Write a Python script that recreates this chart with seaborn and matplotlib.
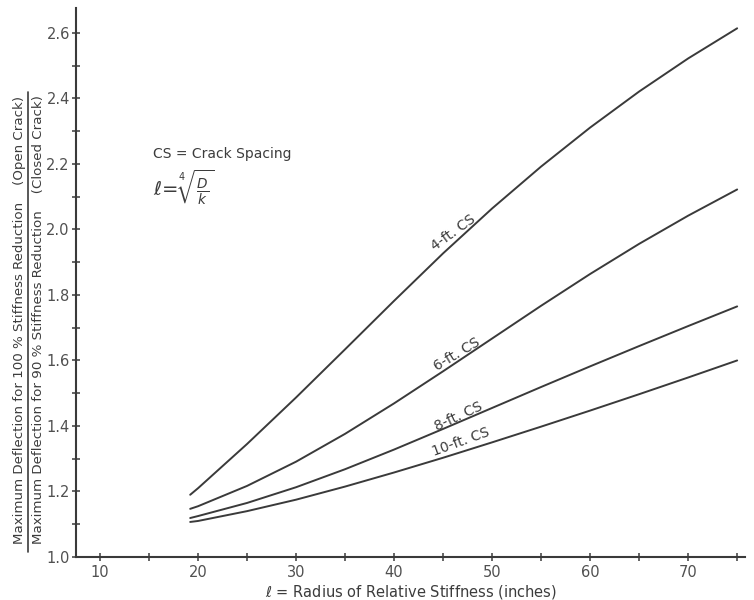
import numpy as np
import pandas as pd
import matplotlib
matplotlib.use("Agg")
import matplotlib.pyplot as plt
from matplotlib.lines import Line2D
import seaborn as sns

# ---- data ----
radius = [19.2, 20, 25, 30, 35, 40, 45, 50, 55, 60, 65, 70, 75]
cs_4ft = [1.19, 1.21, 1.345, 1.487, 1.634, 1.782, 1.927, 2.064, 2.192, 2.311, 2.421, 2.522, 2.614]
cs_6ft = [1.147, 1.155, 1.217, 1.291, 1.376, 1.469, 1.567, 1.667, 1.767, 1.864, 1.956, 2.042, 2.122]
cs_8ft = [1.119, 1.125, 1.165, 1.213, 1.268, 1.328, 1.391, 1.455, 1.519, 1.582, 1.644, 1.705, 1.765]
cs_10ft = [1.107, 1.11, 1.14, 1.175, 1.215, 1.258, 1.303, 1.35, 1.398, 1.447, 1.497, 1.548, 1.60]
series_names = ["4-ft. CS", "6-ft. CS", "8-ft. CS", "10-ft. CS"]
label_x = [46.0, 46.4, 46.6, 46.8]
label_y = [1.99, 1.62, 1.428, 1.35]
label_rot = [36, 31, 25, 20]
x_ticks = [10, 20, 30, 40, 50, 60, 70]
y_ticks = [1.0, 1.2, 1.4, 1.6, 1.8, 2.0, 2.2, 2.4, 2.6]

df = pd.DataFrame({
    "radius": radius * 4,
    "ratio": cs_4ft + cs_6ft + cs_8ft + cs_10ft,
    "series": sum([[n] * len(radius) for n in series_names], []),
})

sns.set_theme(style="ticks")
plt.rcParams["font.family"] = ["DejaVu Sans"]

INK = "#3a3a3a"
TXT = "#3c3c3c"
fig = plt.figure(figsize=(7.54, 6.0), dpi=100)
ax = fig.add_axes([76 / 754, 43 / 600, 669 / 754, 549 / 600])

sns.lineplot(data=df, x="radius", y="ratio", hue="series",
             palette=[INK] * 4, linewidth=1.4, legend=False, ax=ax,
             estimator=None, sort=True)

ax.set_xlim(7.55, 75.8)
ax.set_ylim(1.0, 2.676)

ax.set_xticks(x_ticks)
ax.set_xticklabels([str(t) for t in x_ticks])
ax.set_xticks(np.arange(15, 76, 10), minor=True)
ax.set_yticks(y_ticks)
ax.set_yticklabels([f"{t:.1f}" for t in y_ticks])
ax.set_yticks(np.arange(1.1, 2.65, 0.2), minor=True)

ax.tick_params(axis="both", which="both", direction="inout", length=6,
               width=1.1, color=INK, labelcolor="#505050", labelsize=10.5)
ax.tick_params(axis="x", which="major", pad=3)
ax.tick_params(axis="y", which="major", pad=1.5)

for s in ["top", "right"]:
    ax.spines[s].set_visible(False)
for s in ["left", "bottom"]:
    ax.spines[s].set_color(INK)
    ax.spines[s].set_linewidth(1.5)

ax.set_xlabel(r"$\ell$ = Radius of Relative Stiffness (inches)",
              fontsize=10.5, color=TXT, labelpad=2)
ax.set_ylabel("")

# curve labels
for n, lx, ly, r in zip(series_names, label_x, label_y, label_rot):
    ax.text(lx, ly, n, rotation=r, ha="center", va="center",
            fontsize=10, color=TXT, rotation_mode="anchor")

# annotations
ax.text(15.4, 2.229, "CS = Crack Spacing", fontsize=10, color=TXT,
        ha="left", va="center")
ax.text(15.4, 2.125, r"$\ell\!=\!\sqrt[4]{\frac{D}{k}}$", fontsize=14,
        color=TXT, ha="left", va="center")

# fraction-style y label
fig.text(20 / 754, 1 - 320 / 600,
         "Maximum Deflection for 100 % Stiffness Reduction    (Open Crack)",
         rotation=90, ha="center", va="center", fontsize=9.6, color=TXT)
fig.text(39 / 754, 1 - 320 / 600,
         "Maximum Deflection for 90 % Stiffness Reduction    (Closed Crack)",
         rotation=90, ha="center", va="center", fontsize=9.6, color=TXT)
fig.add_artist(Line2D([28.5 / 754, 28.5 / 754], [1 - 552 / 600, 1 - 92 / 600],
                      transform=fig.transFigure, color=TXT, linewidth=1.2))

fig.savefig("out.png", dpi=100, facecolor="white")
